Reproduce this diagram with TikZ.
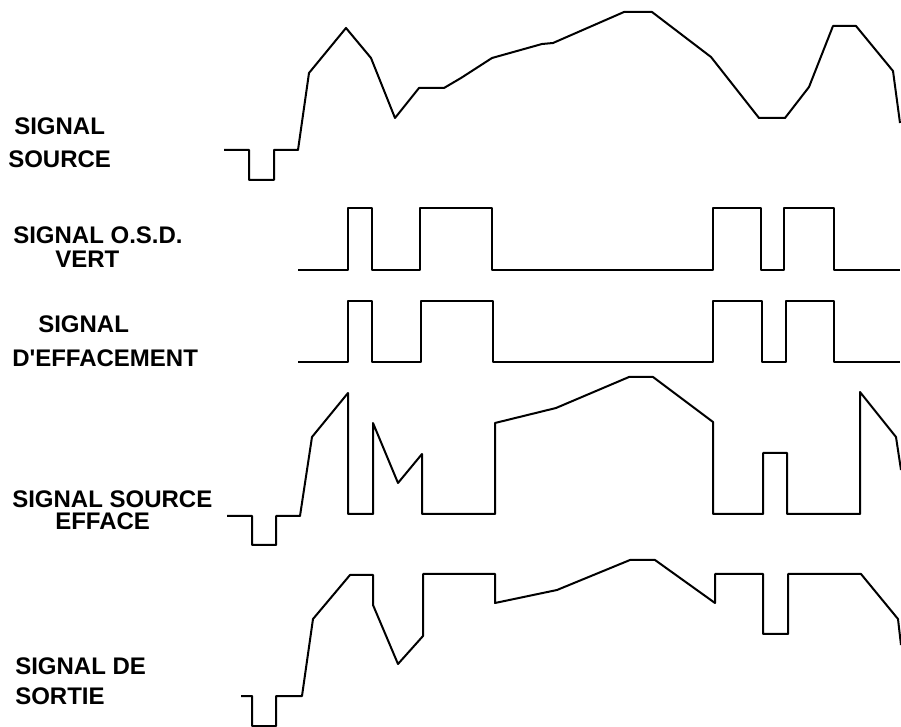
\documentclass[tikz,border=0pt]{standalone}
\usepackage{fontspec}
\setmainfont{Liberation Sans}
\usepackage{tikz}

\begin{document}
\begin{tikzpicture}[x=0.75pt,y=0.75pt,yscale=-1,xscale=1,
  wave/.style={line width=1.5pt,line join=round},
  lbl/.style={anchor=base west,inner sep=0pt,font=\fontsize{18}{20}\selectfont\bfseries}]
\useasboundingbox (0,0) rectangle (901,727);

%Straight Lines [signal source]
\draw [wave] (224,150) -- (249,150) -- (249,180) -- (274,180) -- (274,150) -- (298,150) -- (309,73) -- (346,28) -- (371,58) -- (395,118) -- (419,88) -- (444,88) -- (461,78) -- (492,58) -- (542,44) -- (553,43) -- (624,12) -- (652,12) -- (711,57) -- (759,118) -- (785,118) -- (809,87) -- (833,26) -- (856,26) -- (893,71) -- (900,123) ;
%Straight Lines [signal osd vert]
\draw [wave] (298,270) -- (348,270) -- (348,208) -- (372,208) -- (372,270) -- (420,270) -- (420,208) -- (492,208) -- (492,270) -- (713,270) -- (713,208) -- (761,208) -- (761,270) -- (784,270) -- (784,208) -- (834,208) -- (834,270) -- (900,270) ;
%Straight Lines [signal effacement]
\draw [wave] (298,362) -- (348,362) -- (348,301) -- (372,301) -- (372,362) -- (421,362) -- (421,301) -- (493,301) -- (493,362) -- (713,362) -- (713,301) -- (762,301) -- (762,362) -- (786,362) -- (786,301) -- (834,301) -- (834,362) -- (900,362) ;
%Straight Lines [signal source efface]
\draw [wave] (227,516) -- (252,516) -- (252,545) -- (276,545) -- (276,516) -- (300,516) -- (312,437) -- (348,393) -- (348,514) -- (373,514) -- (373,423) -- (398,483) -- (422,454) -- (422,514) -- (495,514) -- (495,423) -- (556,408) -- (629,377) -- (653,377) -- (713,422) -- (713,514) -- (763,514) -- (763,453) -- (787,453) -- (787,514) -- (860,514) -- (860,392) -- (896,437) -- (901,470) ;
%Straight Lines [signal de sortie]
\draw [wave] (241,696) -- (252,696) -- (252,726) -- (276,726) -- (276,696) -- (302,696) -- (313,619) -- (350,575) -- (373,575) -- (373,605) -- (398,664) -- (423,636) -- (423,574) -- (495,574) -- (495,603) -- (557,590) -- (630,560) -- (655,560) -- (715,603) -- (715,574) -- (763,574) -- (763,634) -- (788,634) -- (788,574) -- (861,574) -- (898,619) -- (901,645) ;

% Text Node
\draw (14,135) node (srcA) [lbl] {SIGNAL};
% Text Node
\draw (8,168) node (srcB) [lbl] {SOURCE};
% Text Node
\draw (13,244) node (osdA) [lbl] {SIGNAL O.S.D.};
% Text Node
\draw (55,268) node (osdB) [lbl] {VERT};
% Text Node
\draw (38,333) node (effA) [lbl] {SIGNAL};
% Text Node
\draw (12,367) node (effB) [lbl] {D\textquotesingle EFFACEMENT};
% Text Node
\draw (12,508) node (sefA) [lbl] {SIGNAL SOURCE};
% Text Node
\draw (55,530) node (sefB) [lbl] {EFFACE};
% Text Node
\draw (15,675) node (sorA) [lbl] {SIGNAL DE};
% Text Node
\draw (15,705) node (sorB) [lbl] {SORTIE};
\end{tikzpicture}
\end{document}
